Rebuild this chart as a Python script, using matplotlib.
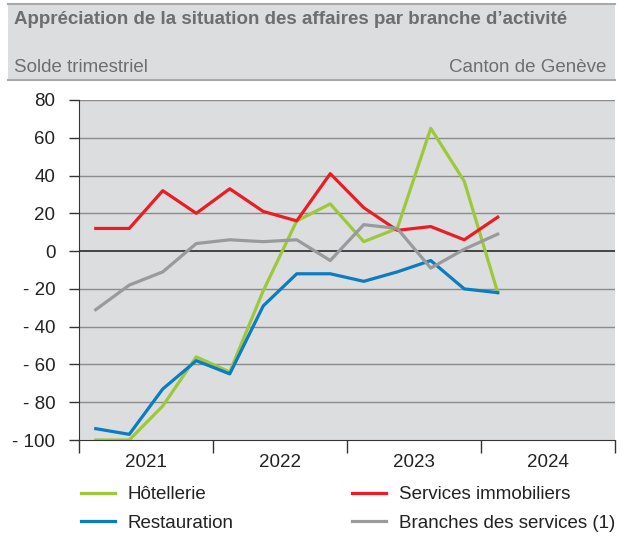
import matplotlib.pyplot as plt
from matplotlib.patches import Rectangle
from matplotlib.lines import Line2D
from matplotlib.ticker import FuncFormatter

plt.rcParams['font.family'] = ['Liberation Sans', 'DejaVu Sans']

# quarterly balances, 2021 Q1 .. 2024 Q1
quarters = list(range(13))
hotellerie = [-100, -100, -82, -56, -64, -21, 16, 25, 5, 12, 65, 37, -22]
restauration = [-94, -97, -73, -58, -65, -29, -12, -12, -16, -11, -5, -20, -22]
immobiliers = [12, 12, 32, 20, 33, 21, 16, 41, 23, 11, 13, 6, 18]
services = [-31, -18, -11, 4, 6, 5, 6, -5, 14, 12, -9, 1, 9]
years = ['2021', '2022', '2023', '2024']

W, H = 627, 539
fig = plt.figure(figsize=(W / 100, H / 100), dpi=100)
bg = '#dcdddf'
fs = 13.5

def fx(px):
    return px / W

def fy(py):
    return 1 - py / H

# header band
fig.patches.append(Rectangle((fx(8), fy(80)), fx(615 - 8), (80 - 4) / H,
                             transform=fig.transFigure, facecolor=bg, edgecolor='none'))
for yy in (4, 80):
    fig.add_artist(Line2D([fx(8), fx(615)], [fy(yy), fy(yy)], color='#a8a9ab', lw=1.5,
                          transform=fig.transFigure))
fig.text(fx(14), fy(20), "Appréciation de la situation des affaires par branche d’activité",
         fontsize=fs, fontweight='bold', color='#6d6e70', va='center')
fig.text(fx(14), fy(68), "Solde trimestriel", fontsize=fs, color='#6d6e70', va='center')
fig.text(fx(606), fy(68), "Canton de Genève", fontsize=fs, color='#6d6e70', va='center', ha='right')

ax = fig.add_axes([fx(79), fy(440), fx(615 - 79), 340 / H])
ax.set_facecolor(bg)

ax.plot(quarters, hotellerie, color='#9dc83a', lw=2.3, label='Hôtellerie')
ax.plot(quarters, restauration, color='#0a7cc1', lw=2.3, label='Restauration')
ax.plot(quarters, immobiliers, color='#ec1c24', lw=2.3, label='Services immobiliers')
ax.plot(quarters, services, color='#999a9c', lw=2.3, label='Branches des services (1)')

ax.set_ylim(-100, 80)
ax.set_xlim(-0.5, 15.5)
ax.set_yticks(range(-100, 81, 20))
ax.yaxis.set_major_formatter(FuncFormatter(lambda v, p: f"- {abs(int(v))}" if v < 0 else f"{int(v)}"))
for v in range(-80, 81, 20):
    ax.axhline(v, color='#1a1a1a' if v == 0 else '#8a8b8d', lw=1.1 if v == 0 else 1.0, zorder=1)

ax.set_xticks([-0.5, 3.5, 7.5, 11.5, 15.5])
ax.set_xticklabels([])
ax.set_xticks([1.5, 5.5, 9.5, 13.5], minor=True)
ax.set_xticklabels(years, minor=True)
ax.tick_params(axis='x', which='major', length=9, width=1, color='#333333', direction='out')
ax.tick_params(axis='x', which='minor', length=0, pad=10, labelsize=fs, labelcolor='#222222')
ax.tick_params(axis='y', length=7, width=1, color='#333333', pad=10, labelsize=fs, labelcolor='#222222')

for s in ('top', 'right'):
    ax.spines[s].set_visible(False)
ax.spines['left'].set_color('#333333')
ax.spines['bottom'].set_color('#333333')

handles, labels = ax.get_legend_handles_labels()
fig.legend(handles, labels, ncol=2, loc='upper left', bbox_to_anchor=(fx(81), fy(486)),
           frameon=False, fontsize=fs, handlelength=1.8, handletextpad=0.7,
           columnspacing=6.3, labelspacing=0.62, borderpad=0, borderaxespad=0,
           labelcolor='#222222')

fig.savefig('out.png', dpi=100)
